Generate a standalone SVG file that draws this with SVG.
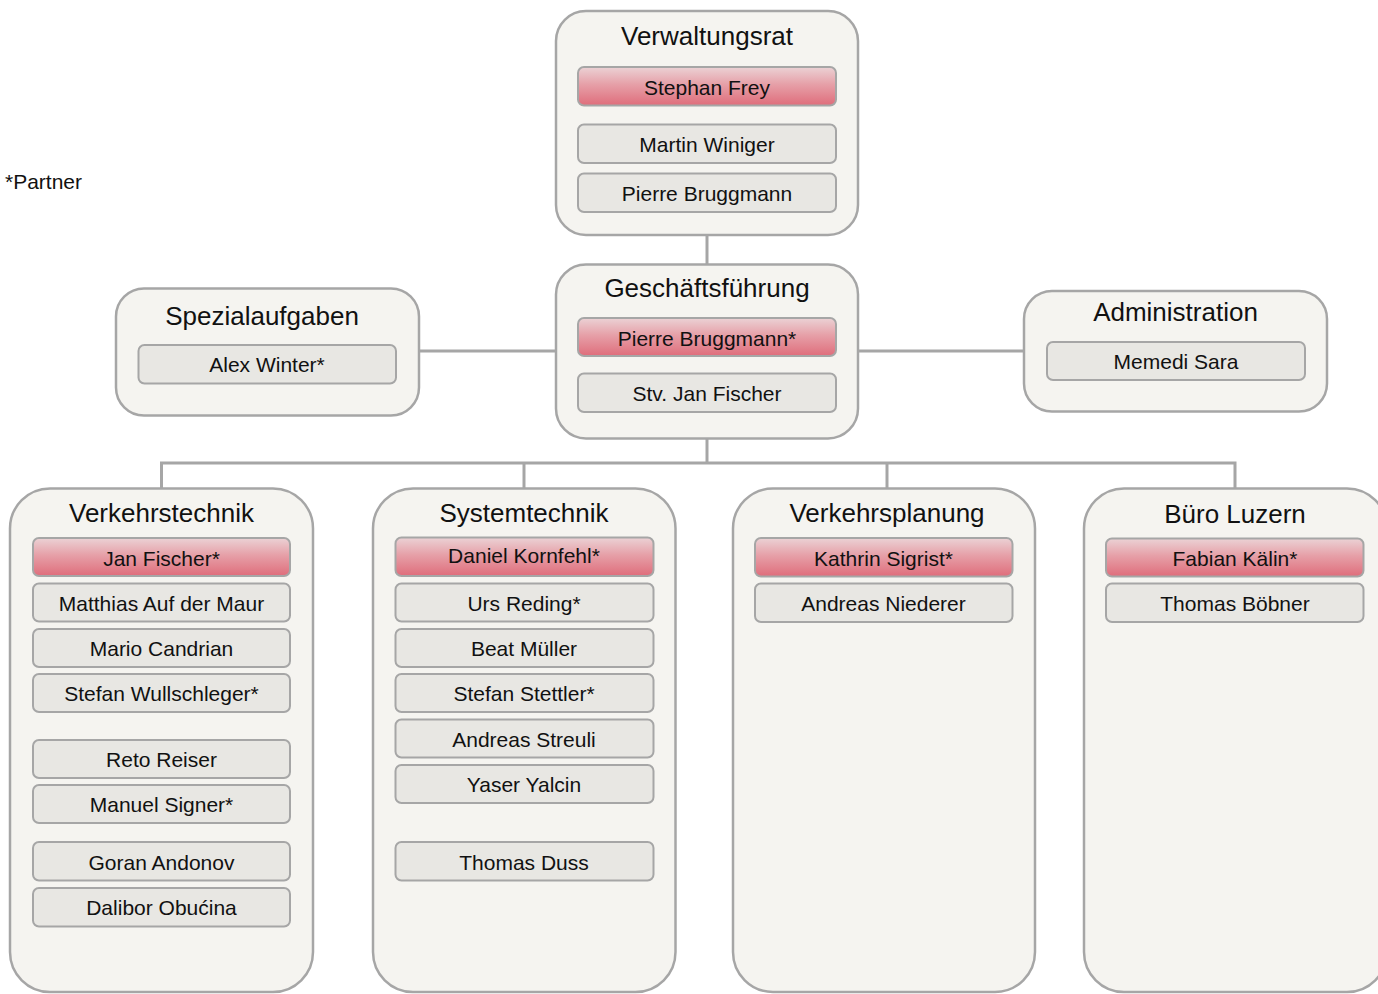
<svg xmlns="http://www.w3.org/2000/svg" width="1378" height="994" viewBox="0 0 1378 994">
<defs>
<linearGradient id="red" x1="0" y1="0" x2="0" y2="1">
<stop offset="0" stop-color="#ebd2d5"/>
<stop offset="0.45" stop-color="#e6a0a8"/>
<stop offset="1" stop-color="#df6d7b"/>
</linearGradient>
<style>
.outer{fill:#f5f4f0;stroke:#a6a6a6;stroke-width:2.5}
.item{fill:#e8e7e3;stroke:#a6a6a6;stroke-width:2}
.lead{fill:url(#red);stroke:#a6a6a6;stroke-width:2}
.title{font-family:"Liberation Sans",Arial,sans-serif;font-size:26px;fill:#111;text-anchor:middle}
.name{font-family:"Liberation Sans",Arial,sans-serif;font-size:21px;fill:#111;text-anchor:middle}
.conn{fill:none;stroke:#a6a6a6;stroke-width:3}
</style>
</defs>
<rect width="1378" height="994" fill="#ffffff"/>
<g id="connectors">
<line class="conn" x1="707" y1="235" x2="707" y2="265"/>
<line class="conn" x1="419" y1="351" x2="556" y2="351"/>
<line class="conn" x1="858" y1="351" x2="1024" y2="351"/>
<line class="conn" x1="707" y1="439" x2="707" y2="463"/>
<polyline class="conn" points="161.5,488 161.5,463 1235,463 1235,488"/>
<line class="conn" x1="524" y1="463" x2="524" y2="488"/>
<line class="conn" x1="887" y1="463" x2="887" y2="488"/>
</g>
<text x="5" y="189" font-family="Liberation Sans, Arial, sans-serif" font-size="21" fill="#111">*Partner</text>
<g id="verwaltungsrat">
<rect class="outer" x="556" y="11" width="302" height="224" rx="30"/>
<text class="title" x="707" y="45">Verwaltungsrat</text>
<rect class="lead" x="578" y="67" width="258" height="38.5" rx="6"/>
<text class="name" x="707" y="95">Stephan Frey</text>
<rect class="item" x="578" y="124.5" width="258" height="38.5" rx="6"/>
<text class="name" x="707" y="152">Martin Winiger</text>
<rect class="item" x="578" y="173.5" width="258" height="38.5" rx="6"/>
<text class="name" x="707" y="201">Pierre Bruggmann</text>
</g>
<g id="geschaeftsfuehrung">
<rect class="outer" x="556" y="264.5" width="302" height="174" rx="30"/>
<text class="title" x="707" y="297">Geschäftsführung</text>
<rect class="lead" x="578" y="318" width="258" height="38" rx="6"/>
<text class="name" x="707" y="346">Pierre Bruggmann*</text>
<rect class="item" x="578" y="373.5" width="258" height="38.5" rx="6"/>
<text class="name" x="707" y="401">Stv. Jan Fischer</text>
</g>
<g id="spezialaufgaben">
<rect class="outer" x="116" y="288.5" width="303" height="127" rx="28"/>
<text class="title" x="262" y="325">Spezialaufgaben</text>
<rect class="item" x="138.5" y="345" width="257.5" height="38.5" rx="6"/>
<text class="name" x="267" y="372">Alex Winter*</text>
</g>
<g id="administration">
<rect class="outer" x="1024" y="291" width="303" height="120.5" rx="28"/>
<text class="title" x="1175.5" y="321">Administration</text>
<rect class="item" x="1047" y="342" width="258" height="38" rx="6"/>
<text class="name" x="1176" y="369">Memedi Sara</text>
</g>
<g id="verkehrstechnik">
<rect class="outer" x="10" y="488.5" width="303" height="503.5" rx="40"/>
<text class="title" x="161.5" y="522">Verkehrstechnik</text>
<rect class="lead" x="33" y="538" width="257" height="38" rx="6"/>
<text class="name" x="161.5" y="566">Jan Fischer*</text>
<rect class="item" x="33" y="583.5" width="257" height="38" rx="6"/>
<text class="name" x="161.5" y="611">Matthias Auf der Maur</text>
<rect class="item" x="33" y="629" width="257" height="38" rx="6"/>
<text class="name" x="161.5" y="656">Mario Candrian</text>
<rect class="item" x="33" y="674" width="257" height="38" rx="6"/>
<text class="name" x="161.5" y="701">Stefan Wullschleger*</text>
<rect class="item" x="33" y="740" width="257" height="38" rx="6"/>
<text class="name" x="161.5" y="767">Reto Reiser</text>
<rect class="item" x="33" y="785" width="257" height="38" rx="6"/>
<text class="name" x="161.5" y="812">Manuel Signer*</text>
<rect class="item" x="33" y="842" width="257" height="38.5" rx="6"/>
<text class="name" x="161.5" y="870">Goran Andonov</text>
<rect class="item" x="33" y="888" width="257" height="38.5" rx="6"/>
<text class="name" x="161.5" y="915">Dalibor Obućina</text>
</g>
<g id="systemtechnik">
<rect class="outer" x="373" y="488.5" width="302.5" height="503.5" rx="40"/>
<text class="title" x="524" y="522">Systemtechnik</text>
<rect class="lead" x="395.5" y="537.5" width="258" height="38.5" rx="6"/>
<text class="name" x="524" y="563">Daniel Kornfehl*</text>
<rect class="item" x="395.5" y="583.5" width="258" height="38" rx="6"/>
<text class="name" x="524" y="611">Urs Reding*</text>
<rect class="item" x="395.5" y="629" width="258" height="38" rx="6"/>
<text class="name" x="524" y="656">Beat Müller</text>
<rect class="item" x="395.5" y="674" width="258" height="38" rx="6"/>
<text class="name" x="524" y="701">Stefan Stettler*</text>
<rect class="item" x="395.5" y="719.5" width="258" height="38" rx="6"/>
<text class="name" x="524" y="747">Andreas Streuli</text>
<rect class="item" x="395.5" y="765" width="258" height="38" rx="6"/>
<text class="name" x="524" y="792">Yaser Yalcin</text>
<rect class="item" x="395.5" y="842" width="258" height="38.5" rx="6"/>
<text class="name" x="524" y="870">Thomas Duss</text>
</g>
<g id="verkehrsplanung">
<rect class="outer" x="733" y="488.5" width="302" height="503.5" rx="40"/>
<text class="title" x="887" y="522">Verkehrsplanung</text>
<rect class="lead" x="755" y="538" width="257.5" height="38.5" rx="6"/>
<text class="name" x="883.5" y="566">Kathrin Sigrist*</text>
<rect class="item" x="755" y="583.5" width="257.5" height="38.5" rx="6"/>
<text class="name" x="883.5" y="611">Andreas Niederer</text>
</g>
<g id="buero-luzern">
<rect class="outer" x="1084" y="488.5" width="303" height="503.5" rx="40"/>
<text class="title" x="1235" y="523">Büro Luzern</text>
<rect class="lead" x="1106" y="538.5" width="257.5" height="38" rx="6"/>
<text class="name" x="1235" y="566">Fabian Kälin*</text>
<rect class="item" x="1106" y="583.5" width="257.5" height="38.5" rx="6"/>
<text class="name" x="1235" y="611">Thomas Böbner</text>
</g>
</svg>
